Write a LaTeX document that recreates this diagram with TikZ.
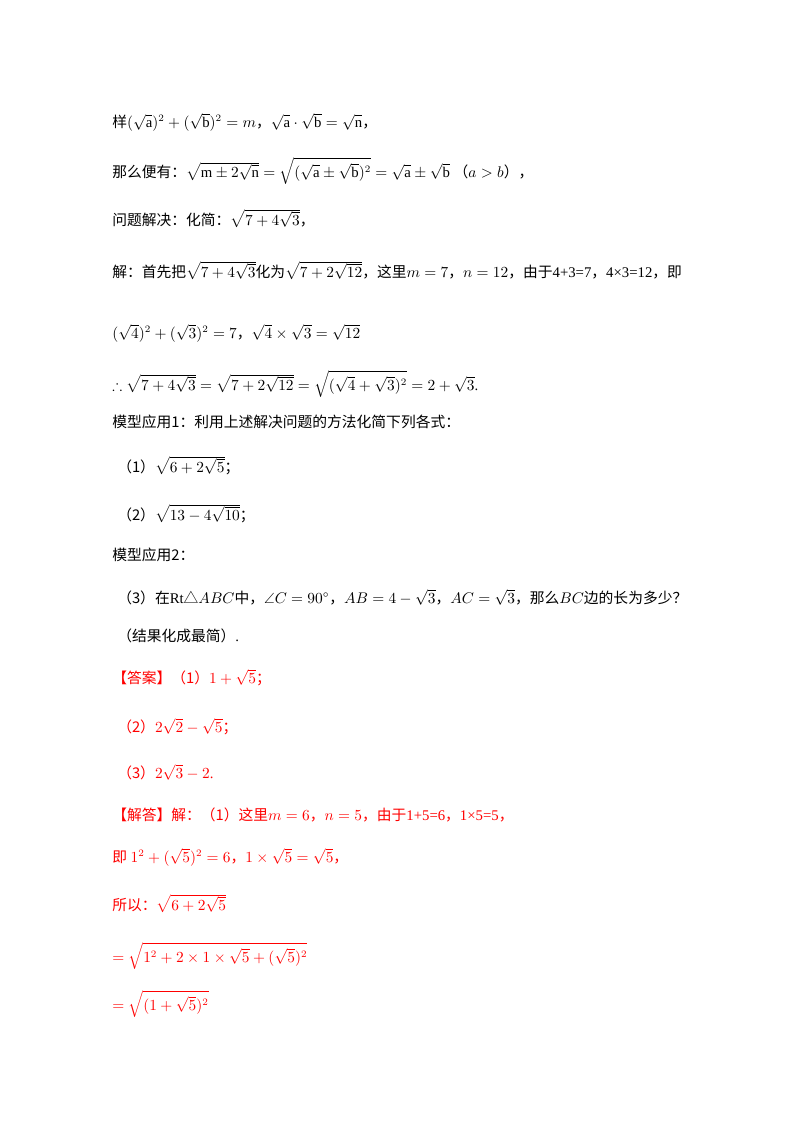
\documentclass[tikz,border=0pt]{standalone}
\usepackage{amssymb}
\usepackage{fontspec}
\setmainfont{Liberation Serif}
\newfontfamily\cjk{Noto Sans CJK SC}
\newcommand{\zh}[1]{{\cjk #1}}
\begin{document}
\begin{tikzpicture}[x=0.025cm,y=-0.025cm,
  line/.style={anchor=base west,inner sep=0pt,font=\fontsize{10.5}{12}\selectfont},
  ans/.style={line,text=red}]
  \useasboundingbox (0,0) rectangle (800,1132);
  % premise
  \node[line] (l1) at (112,127) {\zh{样}$(\sqrt{\mathrm a})^2+(\sqrt{\mathrm b})^2=m$\zh{，}$\sqrt{\mathrm a}\cdot\sqrt{\mathrm b}=\sqrt{\mathrm n}$\zh{，}};
  \node[line] (l2) at (112,177) {\zh{那么便有：}$\sqrt{\mathrm m\pm2\sqrt{\mathrm n}}=\sqrt{(\sqrt{\mathrm a}\pm\sqrt{\mathrm b})^2}=\sqrt{\mathrm a}\pm\sqrt{\mathrm b}$\ \zh{（}$a>b$\zh{），}};
  \node[line] (l3) at (112,225) {\zh{问题解决：化简：}$\sqrt{7+4\sqrt3}$\zh{，}};
  \node[line] (l4) at (112,277) {\zh{解：首先把}$\sqrt{7+4\sqrt3}$\zh{化为}$\sqrt{7+2\sqrt{12}}$\zh{，这里}$m=7$\zh{，}$n=12$\zh{，由于}4+3=7\zh{，}4×3=12\zh{，即}};
  \node[line] (l5) at (112,338) {$(\sqrt4)^2+(\sqrt3)^2=7$\zh{，}$\sqrt4\times\sqrt3=\sqrt{12}$};
  \node[line] (l6) at (112,390) {$\therefore\sqrt{7+4\sqrt3}=\sqrt{7+2\sqrt{12}}=\sqrt{(\sqrt4+\sqrt3)^2}=2+\sqrt3$.};
  % model 1
  \node[line] (l7) at (112,427) {\zh{模型应用1：利用上述解决问题的方法化简下列各式：}};
  \node[line] (l8) at (117,472) {\zh{（1）}$\sqrt{6+2\sqrt5}$\zh{；}};
  \node[line] (l9) at (117,520) {\zh{（2）}$\sqrt{13-4\sqrt{10}}$\zh{；}};
  % model 2
  \node[line] (l10) at (112,560) {\zh{模型应用2：}};
  \node[line] (l11) at (117,603) {\zh{（3）在}Rt\zh{△}$ABC$\zh{中，}$\angle C=90^\circ$\zh{，}$AB=4-\sqrt3$\zh{，}$AC=\sqrt3$\zh{，那么}$BC$\zh{边的长为多少？}};
  \node[line] (l12) at (117,641) {\zh{（结果化成最简）}.};
  % answer
  \node[ans] (l13) at (112,683) {\zh{【答案】（1）}$1+\sqrt5$\zh{；}};
  \node[ans] (l14) at (117,732) {\zh{（2）}$2\sqrt2-\sqrt5$\zh{；}};
  \node[ans] (l15) at (117,778) {\zh{（3）}$2\sqrt3-2$.};
  \node[ans] (l16) at (112,820) {\zh{【解答】解：（1）这里}$m=6$\zh{，}$n=5$\zh{，由于}1+5=6\zh{，}1×5=5\zh{，}};
  \node[ans] (l17) at (112,862) {\zh{即} $1^2+(\sqrt5)^2=6$\zh{，}$1\times\sqrt5=\sqrt5$\zh{，}};
  \node[ans] (l18) at (112,910) {\zh{所以：}$\sqrt{6+2\sqrt5}$};
  \node[ans] (l19) at (112,962) {$=\sqrt{1^2+2\times1\times\sqrt5+(\sqrt5)^2}$};
  \node[ans] (l20) at (112,1010) {$=\sqrt{(1+\sqrt5)^2}$};
\end{tikzpicture}
\end{document}
